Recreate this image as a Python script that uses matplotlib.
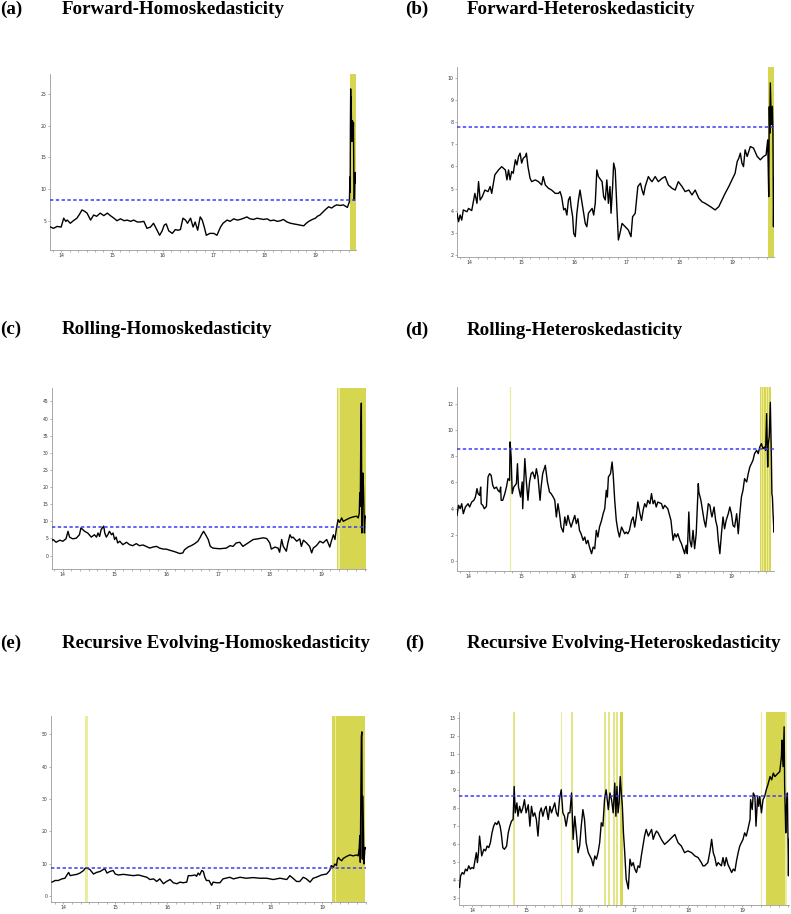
import numpy as np
import matplotlib
matplotlib.use("Agg")
import matplotlib.pyplot as plt
from matplotlib.ticker import MultipleLocator

# Test statistic series (x in years, "14" = 2014), critical values and date-stamped periods

# (a) Forward-Homoskedasticity
fh_x = [13.79, 13.85, 13.92, 14.00, 14.05, 14.09, 14.12, 14.18, 14.24, 14.31,
        14.36, 14.41, 14.46, 14.51, 14.58, 14.64, 14.70, 14.77, 14.84, 14.91,
        14.97, 15.04, 15.10, 15.17, 15.24, 15.30, 15.37, 15.43, 15.50, 15.56,
        15.63, 15.69, 15.76, 15.82, 15.89, 15.94, 15.99, 16.03, 16.07, 16.12,
        16.19, 16.25, 16.30, 16.35, 16.40, 16.45, 16.49, 16.55, 16.60, 16.64,
        16.69, 16.74, 16.78, 16.82, 16.86, 16.93, 17.01, 17.07, 17.14, 17.19,
        17.27, 17.33, 17.40, 17.47, 17.53, 17.60, 17.66, 17.72, 17.79, 17.86,
        17.92, 17.99, 18.06, 18.12, 18.19, 18.26, 18.32, 18.38, 18.45, 18.52,
        18.58, 18.65, 18.71, 18.78, 18.83, 18.88, 18.95, 19.01, 19.05, 19.10,
        19.15, 19.20, 19.27, 19.33, 19.38, 19.43, 19.50, 19.56, 19.64, 19.68,
        19.69, 19.695, 19.70, 19.705, 19.71, 19.715, 19.72, 19.73, 19.74, 19.75,
        19.76, 19.77, 19.78, 19.79, 19.80]
fh_y = [4.0, 3.8, 4.1, 4.0, 5.4, 4.9, 5.1, 4.6, 5.0, 5.4,
        6.0, 6.7, 6.5, 6.2, 5.1, 5.9, 5.7, 6.2, 5.8, 6.2,
        5.8, 5.4, 5.0, 5.3, 5.0, 5.1, 4.9, 5.1, 4.8, 4.8,
        4.9, 3.8, 4.0, 4.6, 3.5, 2.7, 3.4, 4.3, 4.5, 3.4,
        3.0, 3.6, 3.5, 3.6, 5.4, 5.1, 4.6, 5.4, 4.0, 4.8,
        3.5, 5.6, 5.1, 4.0, 2.7, 3.0, 3.0, 2.7, 4.0, 4.6,
        5.1, 4.9, 5.3, 5.1, 5.2, 5.4, 5.6, 5.3, 5.2, 5.4,
        5.3, 5.2, 5.3, 5.0, 5.1, 4.9, 5.0, 5.2, 4.8, 4.6,
        4.5, 4.4, 4.3, 4.2, 4.6, 4.9, 5.2, 5.4, 5.7, 5.9,
        6.3, 6.7, 7.2, 7.0, 7.3, 7.5, 7.4, 7.5, 7.1, 8.0,
        11.9, 9.5, 20.0, 25.8, 21.0, 24.5, 20.7, 17.5, 20.8, 18.0,
        20.5, 8.5, 8.2, 12.6, 11.0]

# (b) Forward-Heteroskedasticity
fx_x = [13.77, 13.80, 13.83, 13.86, 13.89, 13.96, 13.99, 14.05, 14.11, 14.15,
        14.18, 14.21, 14.25, 14.30, 14.36, 14.40, 14.43, 14.49, 14.56, 14.62,
        14.69, 14.72, 14.75, 14.78, 14.81, 14.84, 14.88, 14.91, 14.94, 14.97,
        15.00, 15.03, 15.07, 15.09, 15.12, 15.16, 15.19, 15.26, 15.32, 15.38,
        15.41, 15.45, 15.51, 15.57, 15.64, 15.70, 15.73, 15.76, 15.80, 15.83,
        15.86, 15.89, 15.92, 15.94, 15.97, 15.99, 16.02, 16.05, 16.08, 16.11,
        16.14, 16.18, 16.21, 16.24, 16.27, 16.34, 16.37, 16.40, 16.43, 16.46,
        16.53, 16.56, 16.59, 16.62, 16.65, 16.68, 16.70, 16.73, 16.75, 16.78,
        16.81, 16.84, 16.87, 16.91, 16.97, 17.03, 17.08, 17.11, 17.16, 17.21,
        17.26, 17.29, 17.32, 17.35, 17.41, 17.45, 17.48, 17.54, 17.60, 17.67,
        17.73, 17.79, 17.86, 17.92, 17.98, 18.05, 18.11, 18.18, 18.24, 18.30,
        18.37, 18.43, 18.49, 18.59, 18.68, 18.75, 18.81, 18.87, 18.94, 19.00,
        19.06, 19.10, 19.13, 19.16, 19.19, 19.22, 19.25, 19.29, 19.32, 19.35,
        19.41, 19.48, 19.54, 19.60, 19.65, 19.68, 19.70, 19.71, 19.72, 19.73,
        19.75, 19.77, 19.78, 19.79, 19.80, 19.81]
fx_y = [3.88, 3.50, 3.80, 3.57, 4.03, 3.95, 4.10, 4.00, 4.78, 4.33,
        5.31, 4.48, 4.63, 4.93, 4.86, 5.09, 4.78, 5.62, 5.84, 5.99,
        5.84, 5.39, 5.84, 5.39, 5.77, 5.69, 6.30, 6.07, 6.45, 6.60,
        6.15, 6.37, 6.45, 6.60, 5.99, 5.46, 5.31, 5.39, 5.31, 5.16,
        5.54, 5.16, 5.01, 4.93, 4.78, 4.78, 4.86, 4.63, 4.03, 4.10,
        3.80, 4.48, 4.63, 4.18, 3.72, 2.97, 2.82, 3.88, 4.48, 4.93,
        4.48, 3.88, 3.42, 3.27, 3.88, 4.10, 3.80, 4.33, 5.84, 5.54,
        5.31, 4.63, 4.48, 5.39, 4.33, 5.09, 3.88, 5.09, 6.15, 5.84,
        4.18, 2.67, 2.97, 3.42, 3.27, 3.12, 2.82, 3.72, 3.88, 5.09,
        5.24, 4.93, 4.71, 5.09, 5.54, 5.39, 5.31, 5.54, 5.31, 5.46,
        5.54, 5.16, 5.01, 4.93, 5.31, 5.09, 4.86, 4.93, 4.71, 4.93,
        4.56, 4.40, 4.33, 4.18, 4.03, 4.18, 4.48, 4.78, 5.09, 5.39,
        5.69, 6.22, 6.37, 6.60, 6.15, 5.99, 6.75, 6.45, 6.67, 6.90,
        6.83, 6.45, 6.30, 6.45, 6.52, 7.20, 4.63, 8.70, 7.50, 9.78,
        7.90, 8.72, 7.50, 3.27, 5.46, 5.10]

# (c) Rolling-Homoskedasticity
rh_x = [13.77, 13.81, 13.87, 13.94, 14.00, 14.06, 14.10, 14.13, 14.19, 14.26,
        14.32, 14.35, 14.42, 14.48, 14.55, 14.61, 14.65, 14.68, 14.71, 14.74,
        14.79, 14.81, 14.84, 14.87, 14.90, 14.94, 14.97, 15.00, 15.03, 15.06,
        15.10, 15.16, 15.23, 15.29, 15.35, 15.42, 15.48, 15.55, 15.61, 15.68,
        15.74, 15.81, 15.87, 15.94, 16.00, 16.06, 16.13, 16.19, 16.26, 16.32,
        16.35, 16.42, 16.48, 16.55, 16.61, 16.65, 16.68, 16.72, 16.76, 16.81,
        16.85, 16.90, 17.03, 17.16, 17.23, 17.29, 17.35, 17.42, 17.48, 17.58,
        17.68, 17.77, 17.87, 17.94, 18.00, 18.03, 18.10, 18.16, 18.19, 18.23,
        18.26, 18.32, 18.35, 18.39, 18.42, 18.45, 18.52, 18.58, 18.61, 18.65,
        18.71, 18.77, 18.81, 18.84, 18.90, 18.97, 19.03, 19.10, 19.16, 19.19,
        19.23, 19.26, 19.29, 19.32, 19.35, 19.39, 19.42, 19.48, 19.55, 19.61,
        19.68, 19.71, 19.73, 19.74, 19.75, 19.76, 19.77, 19.78, 19.80, 19.81,
        19.83, 19.84, 19.85]
rh_y = [4.2, 4.7, 3.9, 4.5, 4.2, 4.9, 7.1, 5.4, 4.9, 5.1,
        6.1, 8.1, 7.1, 6.6, 5.4, 6.1, 5.4, 6.6, 5.6, 7.6,
        8.6, 6.6, 5.4, 6.1, 7.1, 6.1, 6.6, 4.7, 5.4, 3.7,
        4.2, 3.2, 3.9, 3.2, 2.9, 3.5, 2.9, 3.1, 2.7, 2.2,
        2.5, 2.7, 2.2, 1.9, 1.9, 1.6, 1.3, 1.0, 0.6, 0.8,
        1.7, 2.5, 2.9, 3.5, 4.2, 5.2, 6.1, 7.1, 6.1, 4.7,
        2.7, 2.2, 2.0, 2.2, 2.9, 2.7, 3.7, 3.9, 2.7, 3.7,
        4.7, 4.9, 5.2, 5.0, 3.7, 1.9, 2.5, 2.2, 1.0, 4.7,
        2.7, 1.3, 3.7, 6.1, 5.2, 5.4, 4.2, 4.9, 2.7, 4.5,
        3.7, 2.7, 0.8, 2.2, 2.9, 4.2, 3.7, 4.7, 2.5, 4.2,
        6.1, 4.7, 8.1, 10.5, 9.7, 11.0, 10.0, 10.5, 11.0, 11.3,
        11.5, 11.0, 12.4, 18.3, 14.4, 36.7, 44.5, 6.6, 24.1, 20.2,
        6.6, 10.5, 11.5]

# (d) Rolling-Heteroskedasticity
rx_x = [13.78, 13.81, 13.84, 13.87, 13.90, 13.94, 13.99, 14.02, 14.06, 14.10,
        14.13, 14.16, 14.18, 14.21, 14.23, 14.24, 14.27, 14.30, 14.34, 14.37,
        14.40, 14.43, 14.46, 14.49, 14.53, 14.56, 14.59, 14.61, 14.62, 14.65,
        14.69, 14.72, 14.75, 14.78, 14.79, 14.81, 14.83, 14.86, 14.91, 14.93,
        14.95, 14.99, 15.02, 15.03, 15.07, 15.10, 15.13, 15.16, 15.19, 15.22,
        15.26, 15.29, 15.32, 15.36, 15.38, 15.41, 15.46, 15.50, 15.54, 15.57,
        15.61, 15.64, 15.67, 15.70, 15.73, 15.76, 15.80, 15.83, 15.86, 15.89,
        15.92, 15.95, 15.99, 16.02, 16.05, 16.08, 16.11, 16.14, 16.18, 16.21,
        16.24, 16.27, 16.30, 16.34, 16.37, 16.40, 16.43, 16.46, 16.49, 16.53,
        16.56, 16.59, 16.62, 16.64, 16.66, 16.70, 16.73, 16.75, 16.78, 16.81,
        16.84, 16.87, 16.91, 16.94, 16.97, 17.00, 17.03, 17.06, 17.10, 17.13,
        17.16, 17.19, 17.22, 17.26, 17.29, 17.32, 17.35, 17.38, 17.41, 17.45,
        17.48, 17.51, 17.54, 17.57, 17.60, 17.67, 17.70, 17.73, 17.79, 17.85,
        17.89, 17.92, 17.95, 17.98, 18.02, 18.05, 18.08, 18.11, 18.14, 18.16,
        18.19, 18.21, 18.24, 18.27, 18.30, 18.33, 18.37, 18.38, 18.42, 18.44,
        18.48, 18.51, 18.54, 18.56, 18.59, 18.61, 18.63, 18.67, 18.70, 18.73,
        18.75, 18.78, 18.81, 18.84, 18.87, 18.90, 18.94, 18.97, 19.00, 19.03,
        19.06, 19.10, 19.13, 19.16, 19.19, 19.22, 19.25, 19.29, 19.32, 19.35,
        19.38, 19.41, 19.44, 19.48, 19.51, 19.54, 19.57, 19.60, 19.63, 19.65,
        19.67, 19.69, 19.70, 19.72, 19.74, 19.76, 19.77, 19.78, 19.79, 19.81,
        19.82]
rx_y = [3.48, 4.25, 3.99, 4.37, 3.61, 4.12, 4.37, 4.12, 4.50, 4.63,
        4.88, 5.52, 5.14, 5.01, 5.64, 4.37, 4.25, 3.99, 4.17, 6.41,
        6.66, 6.53, 5.77, 5.52, 5.64, 5.39, 5.26, 5.64, 4.63, 4.63,
        5.14, 5.64, 6.28, 6.15, 9.08, 7.93, 5.14, 5.64, 5.90, 7.42,
        5.64, 4.88, 6.03, 3.99, 7.81, 6.03, 4.63, 6.03, 6.66, 6.79,
        6.28, 7.04, 6.41, 4.63, 5.64, 6.66, 7.30, 6.03, 5.26, 5.14,
        4.88, 4.63, 3.36, 4.37, 3.61, 2.59, 2.21, 3.36, 2.72, 3.48,
        2.97, 2.59, 3.10, 3.48, 2.85, 3.23, 2.34, 2.08, 1.58, 1.83,
        1.32, 1.58, 1.07, 0.56, 1.07, 0.94, 2.34, 1.83, 2.59, 3.10,
        3.61, 3.99, 5.39, 4.88, 6.41, 6.66, 7.55, 6.66, 4.63, 3.10,
        2.34, 1.83, 2.59, 2.34, 2.08, 2.21, 2.08, 2.34, 3.10, 3.36,
        2.59, 3.36, 4.50, 3.61, 3.10, 3.86, 4.37, 4.12, 4.63, 4.37,
        5.14, 4.37, 4.63, 4.12, 4.50, 4.37, 3.99, 4.25, 3.99, 3.10,
        1.58, 2.08, 1.83, 2.08, 1.58, 1.32, 0.94, 0.56, 1.20, 0.56,
        3.74, 1.58, 1.07, 2.34, 0.94, 2.08, 5.90, 5.26, 4.63, 4.12,
        3.10, 2.59, 3.61, 4.37, 4.25, 3.74, 3.36, 4.12, 3.10, 2.59,
        1.58, 0.56, 2.08, 3.36, 2.46, 3.10, 3.61, 4.12, 3.61, 2.72,
        2.59, 3.61, 2.08, 3.61, 4.88, 5.39, 6.28, 6.03, 6.66, 7.17,
        7.42, 7.68, 8.19, 8.44, 8.19, 8.70, 8.95, 8.57, 8.70, 8.44,
        11.24, 7.17, 8.90, 9.50, 12.10, 8.00, 5.10, 4.88, 3.80, 2.20,
        3.30]

# (e) Recursive Evolving-Homoskedasticity
eh_x = [13.78, 13.84, 13.90, 13.97, 14.03, 14.06, 14.10, 14.13, 14.19, 14.26,
        14.32, 14.39, 14.42, 14.46, 14.51, 14.58, 14.64, 14.71, 14.77, 14.80,
        14.84, 14.90, 14.96, 15.00, 15.06, 15.16, 15.25, 15.35, 15.45, 15.54,
        15.61, 15.67, 15.74, 15.80, 15.86, 15.93, 15.99, 16.06, 16.12, 16.19,
        16.25, 16.31, 16.38, 16.41, 16.47, 16.54, 16.57, 16.60, 16.63, 16.67,
        16.70, 16.73, 16.76, 16.81, 16.86, 16.89, 16.96, 17.02, 17.08, 17.21,
        17.28, 17.41, 17.53, 17.66, 17.79, 17.92, 18.05, 18.18, 18.31, 18.37,
        18.43, 18.50, 18.56, 18.63, 18.69, 18.76, 18.82, 18.88, 18.98, 19.08,
        19.14, 19.17, 19.21, 19.24, 19.27, 19.29, 19.31, 19.33, 19.37, 19.40,
        19.46, 19.53, 19.59, 19.66, 19.69, 19.71, 19.72, 19.73, 19.75, 19.76,
        19.77, 19.78, 19.80, 19.82, 19.83]
eh_y = [4.3, 4.8, 4.8, 5.3, 5.5, 6.3, 7.3, 6.3, 6.5, 6.7,
        7.1, 7.9, 8.6, 8.6, 8.2, 6.8, 7.3, 7.6, 8.2, 8.4,
        7.1, 7.6, 7.9, 6.8, 6.5, 6.7, 6.5, 6.3, 6.5, 6.1,
        5.8, 5.1, 5.3, 4.5, 5.3, 3.8, 4.5, 5.1, 4.1, 3.8,
        4.3, 4.1, 4.3, 6.3, 6.3, 6.5, 6.1, 7.1, 6.5, 7.9,
        7.6, 5.8, 4.8, 4.8, 3.3, 4.3, 4.1, 4.1, 5.3, 5.8,
        5.3, 5.8, 5.5, 5.7, 5.5, 5.5, 5.1, 5.5, 5.1, 6.3,
        5.5, 4.5, 4.5, 5.8, 5.3, 4.3, 5.5, 5.8, 6.5, 6.8,
        7.9, 9.4, 8.9, 9.9, 9.4, 11.4, 11.9, 11.4, 10.9, 11.6,
        12.2, 12.7, 12.4, 12.7, 12.4, 15.0, 18.6, 10.4, 49.2, 50.7,
        11.4, 30.8, 9.9, 15.0, 14.7]

# (f) Recursive Evolving-Heteroskedasticity
ex_x = [13.77, 13.79, 13.82, 13.85, 13.88, 13.91, 13.94, 13.97, 14.00, 14.03,
        14.06, 14.08, 14.10, 14.12, 14.14, 14.16, 14.18, 14.22, 14.25, 14.28,
        14.31, 14.34, 14.37, 14.40, 14.43, 14.46, 14.49, 14.52, 14.54, 14.57,
        14.60, 14.64, 14.67, 14.70, 14.73, 14.76, 14.78, 14.80, 14.83, 14.85,
        14.88, 14.91, 14.94, 14.97, 15.00, 15.04, 15.07, 15.10, 15.13, 15.16,
        15.19, 15.22, 15.25, 15.28, 15.31, 15.34, 15.37, 15.41, 15.44, 15.47,
        15.50, 15.53, 15.56, 15.59, 15.62, 15.65, 15.68, 15.71, 15.74, 15.78,
        15.81, 15.84, 15.87, 15.90, 15.93, 15.96, 15.99, 16.02, 16.05, 16.08,
        16.11, 16.15, 16.18, 16.21, 16.24, 16.27, 16.30, 16.33, 16.36, 16.39,
        16.42, 16.45, 16.48, 16.52, 16.55, 16.58, 16.61, 16.64, 16.66, 16.68,
        16.70, 16.72, 16.74, 16.76, 16.78, 16.80, 16.82, 16.85, 16.89, 16.92,
        16.95, 16.98, 17.01, 17.04, 17.07, 17.10, 17.13, 17.16, 17.19, 17.22,
        17.26, 17.29, 17.32, 17.35, 17.38, 17.41, 17.44, 17.47, 17.50, 17.56,
        17.63, 17.69, 17.75, 17.81, 17.87, 17.93, 17.99, 18.06, 18.12, 18.18,
        18.24, 18.27, 18.30, 18.36, 18.40, 18.43, 18.46, 18.49, 18.52, 18.55,
        18.61, 18.64, 18.67, 18.70, 18.73, 18.80, 18.83, 18.86, 18.89, 18.92,
        18.95, 18.98, 19.01, 19.04, 19.07, 19.10, 19.14, 19.15, 19.18, 19.20,
        19.23, 19.25, 19.28, 19.30, 19.32, 19.35, 19.38, 19.41, 19.44, 19.47,
        19.51, 19.54, 19.57, 19.60, 19.63, 19.66, 19.69, 19.72, 19.73, 19.75,
        19.77, 19.78, 19.80, 19.81, 19.83, 19.85, 19.86]
ex_y = [3.59, 4.23, 4.41, 4.32, 4.60, 4.50, 4.78, 4.60, 4.69, 4.63,
        5.15, 5.51, 4.96, 5.51, 6.43, 5.88, 5.33, 5.70, 5.61, 5.88,
        5.79, 6.06, 6.61, 6.98, 7.17, 7.07, 7.26, 6.98, 6.61, 5.79,
        5.70, 5.88, 6.61, 6.98, 7.26, 7.35, 9.18, 7.72, 8.27, 7.53,
        8.08, 7.72, 7.99, 8.45, 7.72, 8.17, 6.98, 8.08, 7.53, 7.72,
        7.35, 6.43, 7.72, 7.99, 7.53, 7.90, 8.08, 7.35, 8.08, 7.72,
        7.99, 8.27, 7.72, 7.53, 8.54, 9.00, 7.72, 7.53, 6.98, 7.72,
        7.72, 8.82, 6.25, 7.53, 6.61, 5.51, 5.88, 6.98, 7.90, 7.35,
        6.06, 5.51, 5.33, 5.15, 4.78, 5.33, 5.15, 5.51, 6.06, 7.17,
        6.98, 8.45, 9.00, 7.90, 8.82, 8.45, 7.72, 9.37, 7.53, 9.18,
        7.72, 8.27, 9.73, 8.82, 8.08, 6.61, 5.70, 4.05, 3.50, 5.15,
        4.78, 4.96, 4.60, 4.41, 4.78, 4.69, 5.33, 5.88, 6.43, 6.80,
        6.43, 6.61, 6.80, 6.25, 6.52, 6.71, 6.61, 6.43, 6.25, 5.97,
        6.16, 6.34, 6.52, 6.06, 5.88, 5.51, 5.61, 5.51, 5.33, 5.24,
        4.96, 4.78, 4.78, 4.96, 5.61, 6.25, 5.51, 5.24, 4.78, 4.96,
        4.78, 5.24, 4.78, 5.24, 4.87, 4.41, 4.60, 4.50, 5.06, 5.51,
        5.88, 6.06, 6.25, 6.61, 6.43, 6.80, 7.35, 8.45, 7.90, 8.82,
        8.63, 6.98, 8.63, 8.08, 8.63, 7.72, 8.45, 8.63, 9.00, 9.28,
        9.73, 9.55, 9.92, 9.73, 9.83, 9.92, 10.01, 10.84, 11.75, 10.28,
        12.49, 9.18, 6.61, 7.90, 8.82, 4.23, 6.25]

# critical values (blue dashed lines)
crit = [8.26, 7.77, 8.45, 8.51, 8.78, 8.65]

# bubble periods (start, end) and single stamped dates
dark_spans = [
    [(19.69, 19.81)],
    [(19.68, 19.80)],
    [(19.30, 19.32), (19.35, 19.86)],
    [(19.54, 19.56), (19.585, 19.60), (19.625, 19.655), (19.67, 19.70), (19.72, 19.755)],
    [(19.185, 19.24), (19.27, 19.815)],
    [(16.73, 16.80), (19.43, 19.78)],
]
light_spans = [
    [],
    [],
    [(19.30, 19.86)],
    [(19.54, 19.76)],
    [(14.42, 14.47), (19.185, 19.815)],
    [(19.78, 19.82)],
]
stamp_dates = [[], [], [], [], [], [14.783, 15.84, 16.46, 16.54, 16.62, 16.68]]
weak_dates = [[], [], [], [14.79], [], [15.65, 19.35]]

titles = ["Forward-Homoskedasticity", "Forward-Heteroskedasticity",
          "Rolling-Homoskedasticity", "Rolling-Heteroskedasticity",
          "Recursive Evolving-Homoskedasticity", "Recursive Evolving-Heteroskedasticity"]
letters = ["(a)", "(b)", "(c)", "(d)", "(e)", "(f)"]
years = [14, 15, 16, 17, 18, 19]

series = [(fh_x, fh_y), (fx_x, fx_y), (rh_x, rh_y), (rx_x, rx_y), (eh_x, eh_y), (ex_x, ex_y)]
yticks = [[5, 10, 15, 20, 25], list(range(2, 11)), list(range(0, 50, 5)),
          list(range(0, 13, 2)), list(range(0, 51, 10)), list(range(3, 14))]

# layout, in pixels of the 791x914 picture: left, right, top, bottom
W, H = 791, 914
boxes = [(50, 356, 74, 250), (457, 774, 67, 257),
         (52, 366, 388, 569), (457, 774, 387, 571),
         (51, 366, 716, 902), (459, 789, 712, 905)]
xlims = [(13.78, 19.81), (13.77, 19.80), (13.79, 19.86),
         (13.78, 19.81), (13.76, 19.84), (13.76, 19.86)]
ylims = [(0.38, 28.15), (1.9, 10.5), (-3.9, 48.9),
         (-0.76, 13.27), (-1.84, 55.6), (2.61, 13.31)]
title_base = [14, 14, 334, 335, 648, 648]

DARK = "#d6d650"
MID = "#dcdc66"
LIGHT = "#ecec9e"

fig = plt.figure(figsize=(W / 100, H / 100), dpi=100)

for i in range(6):
    l, r, t, b = boxes[i]
    ax = fig.add_axes([l / W, 1 - b / H, (r - l) / W, (b - t) / H])
    for s, e in light_spans[i]:
        ax.axvspan(s, e, color=LIGHT, lw=0, zorder=1)
    for s, e in dark_spans[i]:
        ax.axvspan(s, e, color=DARK, lw=0, zorder=2)
    for d in weak_dates[i]:
        ax.axvline(d, color=LIGHT, lw=0.9, zorder=1)
    for d in stamp_dates[i]:
        ax.axvline(d, color=MID, lw=1.1, zorder=1.5)
    x, y = series[i]
    ax.plot(x, y, color="black", lw=1.0, zorder=3)
    ax.axhline(crit[i], color="#3b3bf5", lw=1.1, ls=(0, (2.2, 1.6)), zorder=4)
    ax.set_xlim(*xlims[i])
    ax.set_ylim(*ylims[i])
    ax.set_xticks(years)
    ax.set_xticklabels([str(v) for v in years])
    ax.xaxis.set_minor_locator(MultipleLocator(1 / 6))
    ax.set_yticks(yticks[i])
    for sp in ["top", "right"]:
        ax.spines[sp].set_visible(False)
    for sp in ["left", "bottom"]:
        ax.spines[sp].set_color("#9a9a9a")
        ax.spines[sp].set_linewidth(0.6)
    ax.tick_params(axis="both", which="major", labelsize=3.3, length=1.5, width=0.4,
                   color="#777777", labelcolor="#333333", pad=1)
    ax.tick_params(axis="x", which="minor", length=1.2, width=0.4, color="#777777")

    col = 0 if i % 2 == 0 else 405
    fig.text(col / W, 1 - title_base[i] / H, letters[i], family="Liberation Serif",
             weight="bold", fontsize=13.7, va="baseline", ha="left")
    fig.text((col + 62) / W, 1 - title_base[i] / H, titles[i], family="Liberation Serif",
             weight="bold", fontsize=13.7, va="baseline", ha="left")

fig.savefig("out.png", dpi=100)
